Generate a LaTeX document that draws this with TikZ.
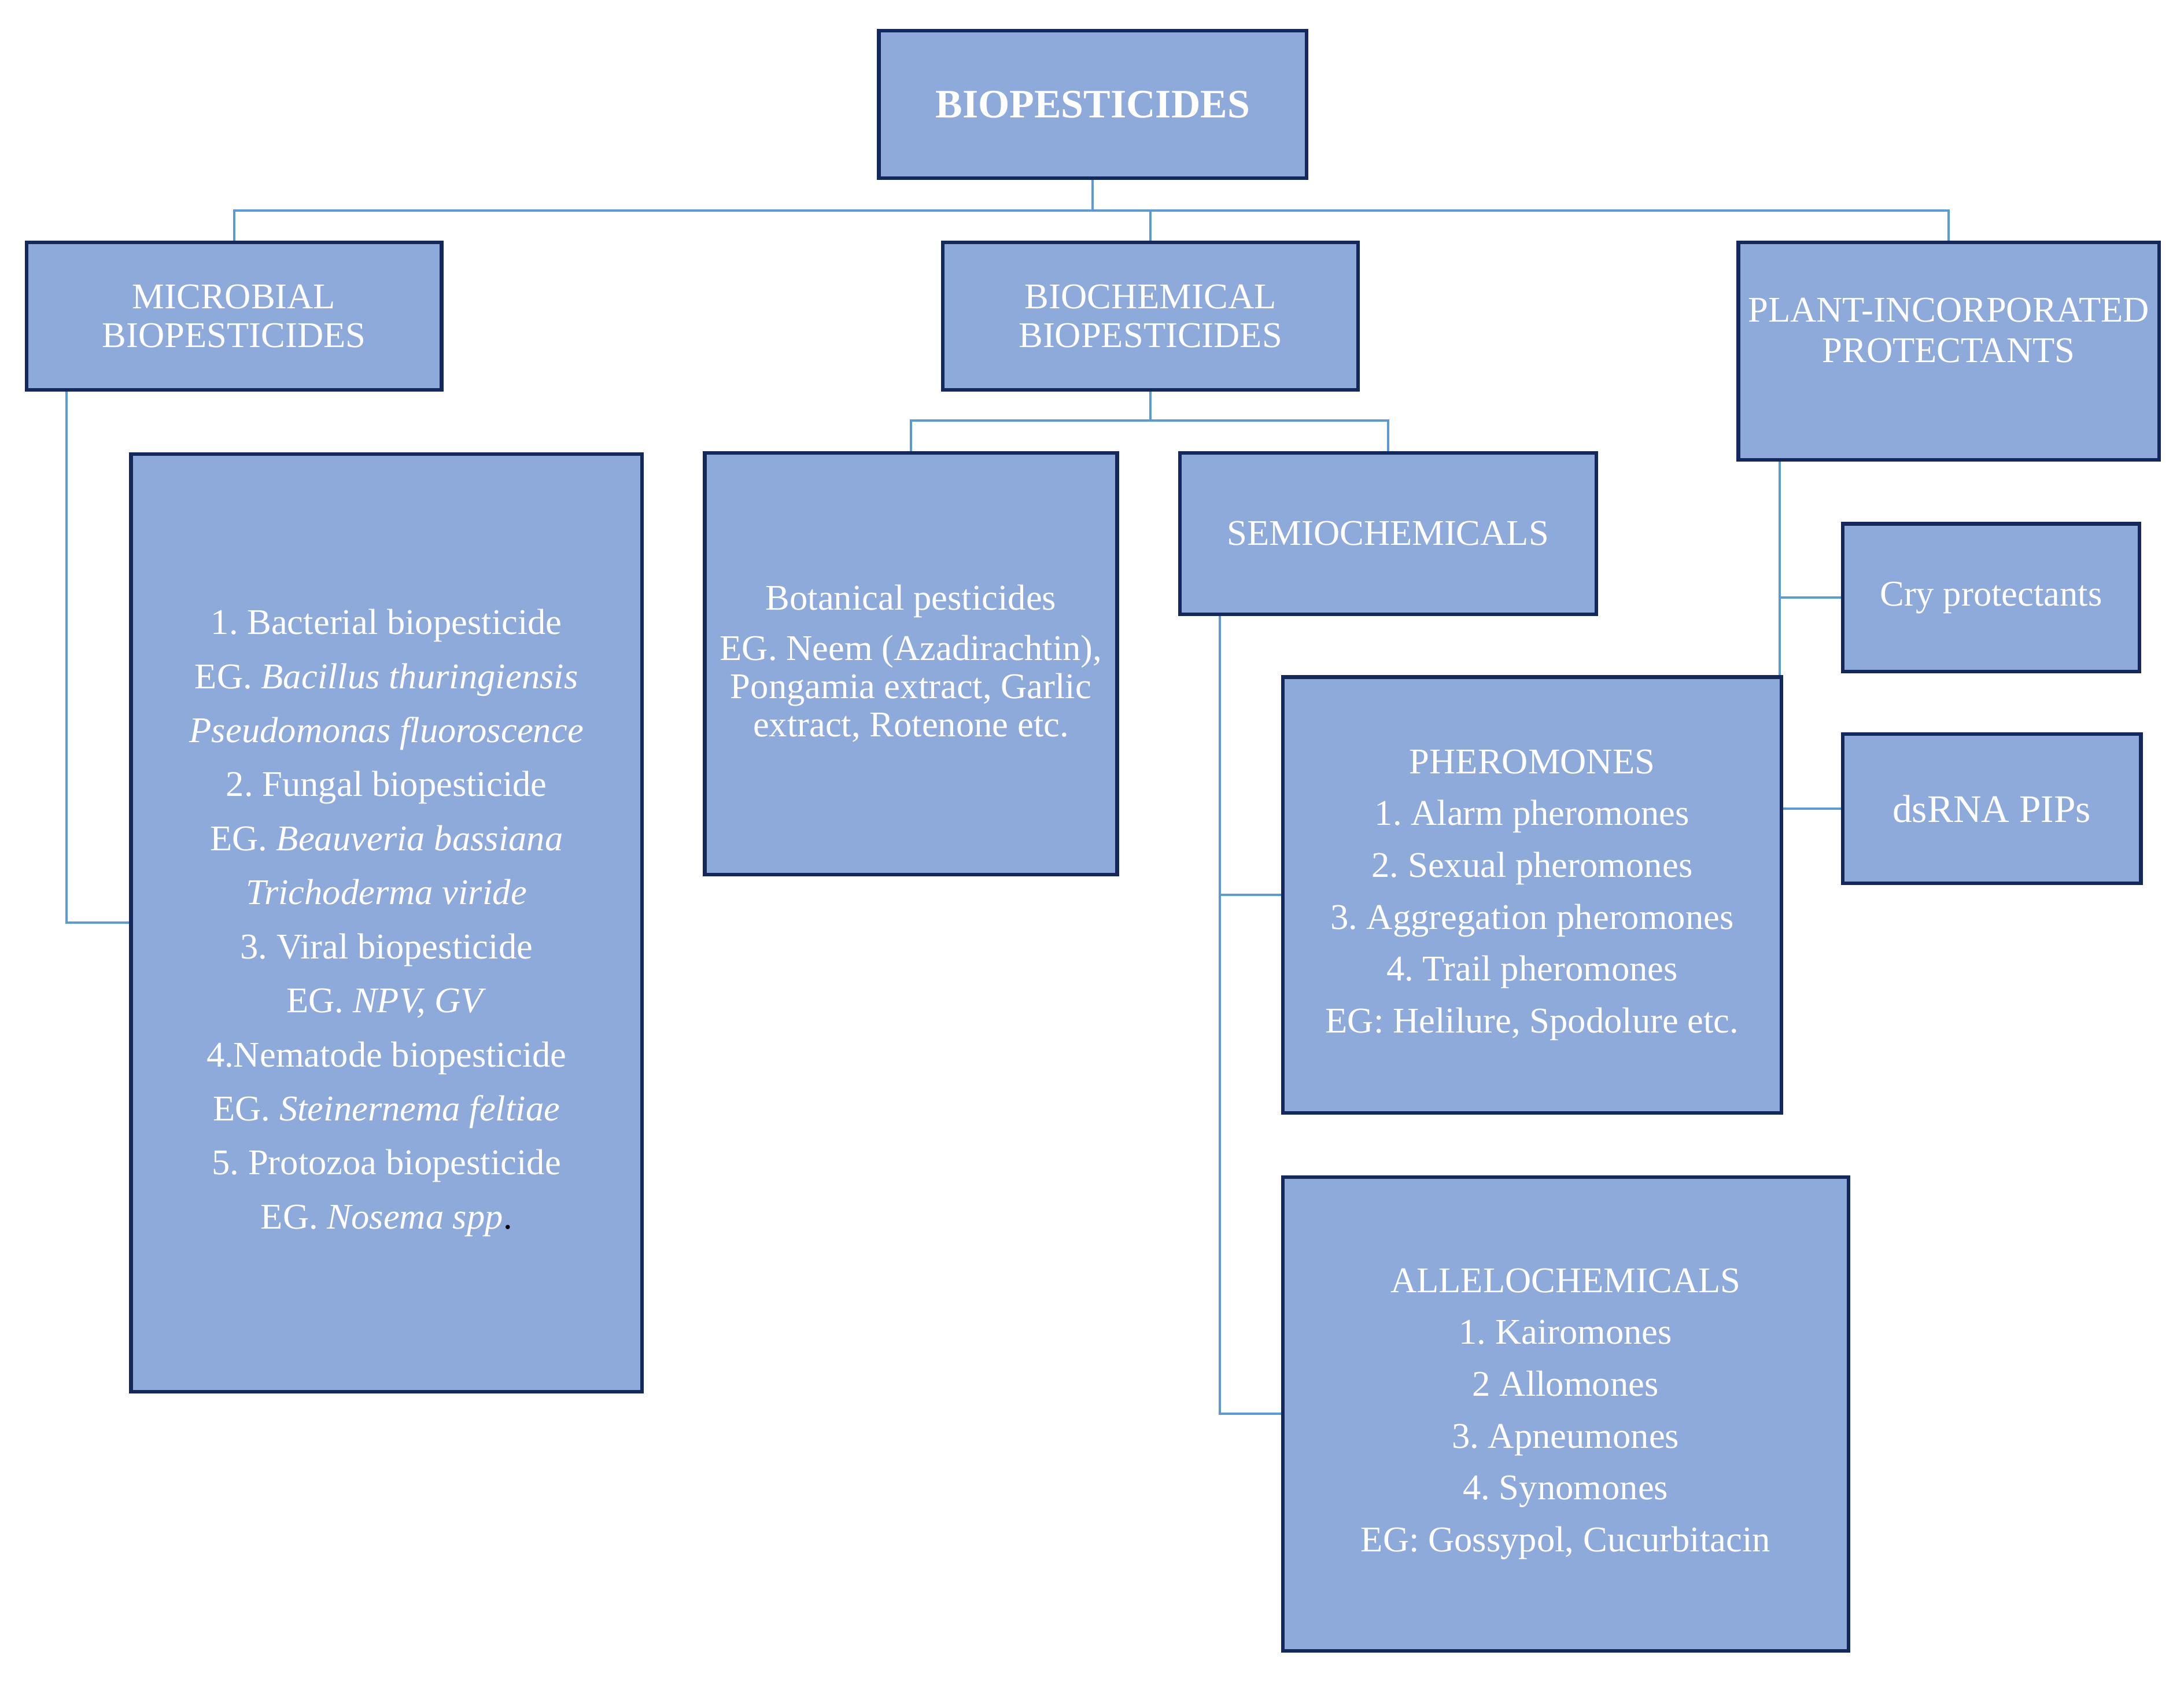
\documentclass[tikz,border=0pt]{standalone}
\usepackage{fontspec}
\setmainfont{Liberation Serif}
\frenchspacing
\usetikzlibrary{backgrounds}
\definecolor{boxfill}{HTML}{8EAADB}
\definecolor{boxline}{HTML}{14285E}
\definecolor{linkblue}{HTML}{5B9BD5}
\begin{document}
\begin{tikzpicture}[x=0.5pt,y=-0.5pt,
  box/.style={draw=boxline,fill=boxfill,line width=1.3pt,text=white,align=center,inner sep=0pt},
  link/.style={draw=linkblue,line width=0.85pt},
  capsfont/.style={font=\fontsize{13}{14}\selectfont},
  listfont/.style={font=\fontsize{13}{19.4}\selectfont}]

  \useasboundingbox (0,0) rectangle (1568,1209.6);

  \node (root) at (784.5,75) [box,minimum width=153.5pt,minimum height=53pt,font=\bfseries\fontsize{14.5}{16}\selectfont] {BIOPESTICIDES};

  \node (micro) at (168,227) [box,minimum width=149pt,minimum height=53pt,capsfont] {MICROBIAL\\BIOPESTICIDES};
  \node (biochem) at (826,227) [box,minimum width=149pt,minimum height=53pt,capsfont] {BIOCHEMICAL\\BIOPESTICIDES};
  \node (pip) at (1399,252) [box,minimum width=151pt,minimum height=78pt] {};
  \node (piptext) at (1399,237) [text=white,align=center,inner sep=0pt,font=\fontsize{13}{14.5}\selectfont] {PLANT-INCORPORATED\\PROTECTANTS};

  \node (microlist) at (277.5,662.5) [box,minimum width=183.5pt,minimum height=336.5pt,listfont]
    {1. Bacterial biopesticide\\
     EG. \textit{Bacillus thuringiensis}\\
     \textit{Pseudomonas fluoroscence}\\
     2. Fungal biopesticide\\
     EG. \textit{Beauveria bassiana}\\
     \textit{Trichoderma viride}\\
     3. Viral biopesticide\\
     EG. \textit{NPV, GV}\\
     4.Nematode biopesticide\\
     EG. \textit{Steinernema feltiae}\\
     5. Protozoa biopesticide\\
     EG. \textit{Nosema spp}{\color{black}.}};

  \node (botanical) at (654,476.5) [box,minimum width=148pt,minimum height=151.5pt,font=\fontsize{13}{13.75}\selectfont]
    {Botanical pesticides\\[4.25pt]
     EG. Neem (Azadirachtin),\\
     Pongamia extract, Garlic\\
     extract, Rotenone etc.};
  \node (semio) at (996.5,383) [box,minimum width=149.5pt,minimum height=58pt,capsfont] {SEMIOCHEMICALS};

  \node (pher) at (1100,642.5) [box,minimum width=179pt,minimum height=156.5pt,font=\fontsize{13}{18.6}\selectfont]
    {PHEROMONES\\
     1. Alarm pheromones\\
     2. Sexual pheromones\\
     3. Aggregation pheromones\\
     4. Trail pheromones\\
     EG: Helilure, Spodolure etc.};
  \node (allelo) at (1124,1015) [box,minimum width=203pt,minimum height=170pt,font=\fontsize{13}{18.6}\selectfont]
    {ALLELOCHEMICALS\\
     1. Kairomones\\
     2 Allomones\\
     3. Apneumones\\
     4. Synomones\\
     EG: Gossypol, Cucurbitacin};

  \node (cry) at (1429.5,429) [box,minimum width=106.5pt,minimum height=53pt,font=\fontsize{13}{14}\selectfont] {Cry protectants};
  \node (dsrna) at (1430,580.5) [box,minimum width=107pt,minimum height=53.5pt,font=\fontsize{14}{15}\selectfont] {dsRNA PIPs};

  \coordinate (topbar) at (784.5,151);
  \coordinate (chembar) at (826,302);

  \begin{scope}[on background layer]
    \draw [link] (root) -- (topbar);
    \draw [link] (topbar) -| (micro);
    \draw [link] (topbar) -| (biochem);
    \draw [link] (topbar) -| (pip);
    \draw [link] ([xshift=15pt]micro.south west) |- (microlist);
    \draw [link] (biochem) -- (chembar);
    \draw [link] (chembar) -| (botanical);
    \draw [link] (chembar) -| (semio);
    \draw [link] ([xshift=15pt]semio.south west) |- (pher);
    \draw [link] ([xshift=15pt]semio.south west) |- (allelo);
    \draw [link] ([xshift=15.5pt]pip.south west) |- (cry);
    \draw [link] ([xshift=15.5pt]pip.south west) |- (dsrna);
  \end{scope}

\end{tikzpicture}
\end{document}
